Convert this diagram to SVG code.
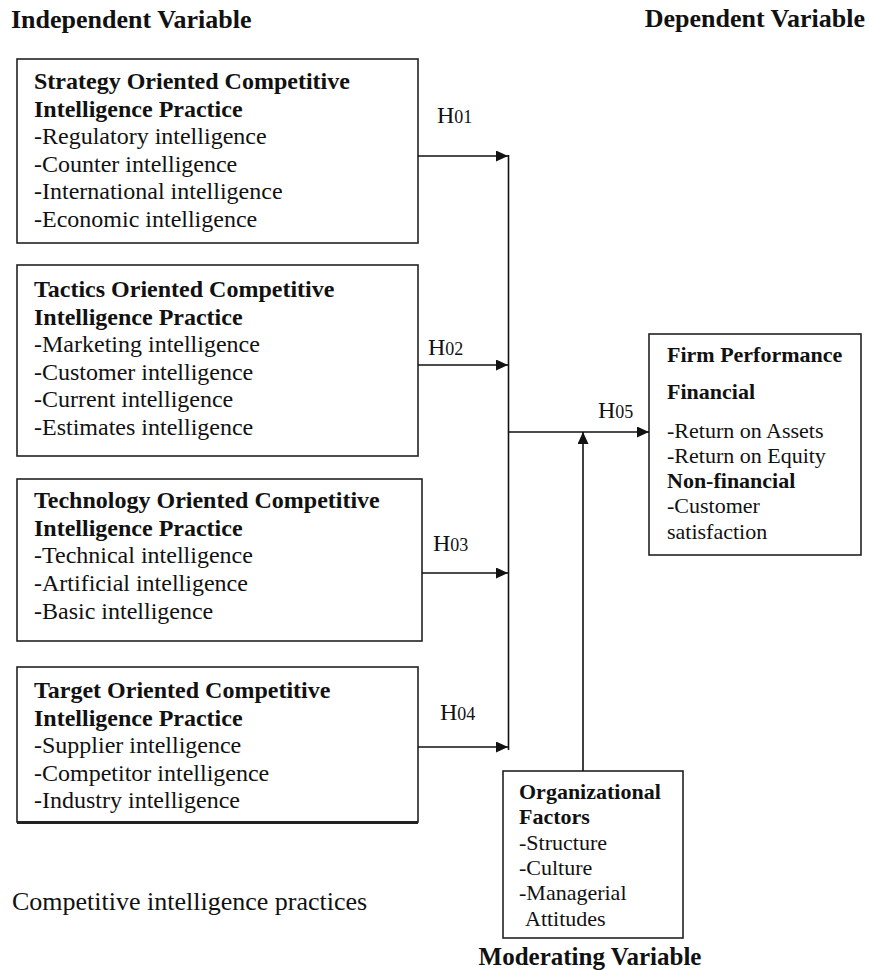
<svg xmlns="http://www.w3.org/2000/svg" width="869" height="970" viewBox="0 0 869 970">
<defs>
<style>
text{font-family:"Liberation Serif","Times New Roman",serif;fill:#111;}
.hd{font-size:26px;font-weight:bold;}
.t{font-size:24px;}
.b{font-weight:bold;}
.s{font-size:22px;}
.sub{font-size:18px;}
.box{fill:#fff;stroke:#222;stroke-width:1.6;}
.ln{stroke:#111;stroke-width:1.6;fill:none;}
</style>
<marker id="ah" markerWidth="12" markerHeight="11" refX="12" refY="5.5" orient="auto" markerUnits="userSpaceOnUse">
<path d="M0,0 L12,5.5 L0,11 Z" fill="#111"/>
</marker>
</defs>
<rect width="869" height="970" fill="#fff"/>

<text class="hd" x="11" y="28">Independent Variable</text>
<text class="hd" x="865" y="27" text-anchor="end">Dependent Variable</text>

<g id="strategy">
<rect class="box" x="17" y="59" width="401" height="184"/>
<text class="t" x="34" y="89"><tspan class="b">Strategy Oriented Competitive</tspan><tspan class="b" x="34" dy="27.6">Intelligence Practice</tspan><tspan x="34" dy="27.6">-Regulatory intelligence</tspan><tspan x="34" dy="27.6">-Counter intelligence</tspan><tspan x="34" dy="27.6">-International intelligence</tspan><tspan x="34" dy="27.6">-Economic intelligence</tspan></text>
</g>

<g id="tactics">
<rect class="box" x="17" y="265" width="401" height="191"/>
<text class="t" x="34" y="297"><tspan class="b">Tactics Oriented Competitive</tspan><tspan class="b" x="34" dy="27.6">Intelligence Practice</tspan><tspan x="34" dy="27.6">-Marketing intelligence</tspan><tspan x="34" dy="27.6">-Customer intelligence</tspan><tspan x="34" dy="27.6">-Current intelligence</tspan><tspan x="34" dy="27.6">-Estimates intelligence</tspan></text>
</g>

<g id="technology">
<rect class="box" x="17" y="479" width="405" height="162"/>
<text class="t" x="34" y="508"><tspan class="b">Technology Oriented Competitive</tspan><tspan class="b" x="34" dy="27.7">Intelligence Practice</tspan><tspan x="34" dy="27.7">-Technical intelligence</tspan><tspan x="34" dy="27.7">-Artificial intelligence</tspan><tspan x="34" dy="27.7">-Basic intelligence</tspan></text>
</g>

<g id="target">
<rect class="box" x="17" y="667" width="401" height="155"/>
<line x1="17" y1="822.5" x2="418" y2="822.5" stroke="#222" stroke-width="3"/>
<text class="t" x="34" y="698"><tspan class="b">Target Oriented Competitive</tspan><tspan class="b" x="34" dy="27.5">Intelligence Practice</tspan><tspan x="34" dy="27.5">-Supplier intelligence</tspan><tspan x="34" dy="27.5">-Competitor intelligence</tspan><tspan x="34" dy="27.5">-Industry intelligence</tspan></text>
</g>

<g id="performance">
<rect class="box" x="649" y="334" width="212" height="221"/>
<text class="s b" x="667" y="362">Firm Performance</text>
<text class="s b" x="667" y="399">Financial</text>
<text class="s" x="667" y="438">-Return on Assets</text>
<text class="s" x="667" y="463">-Return on Equity</text>
<text class="s b" x="667" y="488">Non-financial</text>
<text class="s" x="667" y="513">-Customer</text>
<text class="s" x="667" y="539">satisfaction</text>
</g>

<g id="organizational">
<rect class="box" x="503" y="771" width="180" height="167"/>
<text class="s b" x="519" y="799">Organizational</text>
<text class="s b" x="519" y="824">Factors</text>
<text class="s" x="519" y="850">-Structure</text>
<text class="s" x="519" y="875">-Culture</text>
<text class="s" x="519" y="900">-Managerial</text>
<text class="s" x="525" y="926">Attitudes</text>
</g>

<text class="t b" x="590" y="965" text-anchor="middle" style="font-size:25px">Moderating Variable</text>
<text x="12" y="910" style="font-size:26px">Competitive intelligence practices</text>

<g id="connectors">
<line class="ln" x1="418" y1="156" x2="508" y2="156" marker-end="url(#ah)"/>
<line class="ln" x1="418" y1="365" x2="508" y2="365" marker-end="url(#ah)"/>
<line class="ln" x1="422" y1="573" x2="508" y2="573" marker-end="url(#ah)"/>
<line class="ln" x1="418" y1="747" x2="508" y2="747" marker-end="url(#ah)"/>
<line class="ln" x1="508.5" y1="155" x2="508.5" y2="750"/>
<line class="ln" x1="508" y1="432" x2="649" y2="432" marker-end="url(#ah)"/>
<line class="ln" x1="583" y1="771" x2="583" y2="432" marker-end="url(#ah)"/>
<g id="labels">
<text class="t" x="437" y="123">H<tspan class="sub">01</tspan></text>
<text class="t" x="428" y="355">H<tspan class="sub">02</tspan></text>
<text class="t" x="433" y="551">H<tspan class="sub">03</tspan></text>
<text class="t" x="440" y="720">H<tspan class="sub">04</tspan></text>
<text class="t" x="598" y="418">H<tspan class="sub">05</tspan></text>
</g>
</g>
</svg>
